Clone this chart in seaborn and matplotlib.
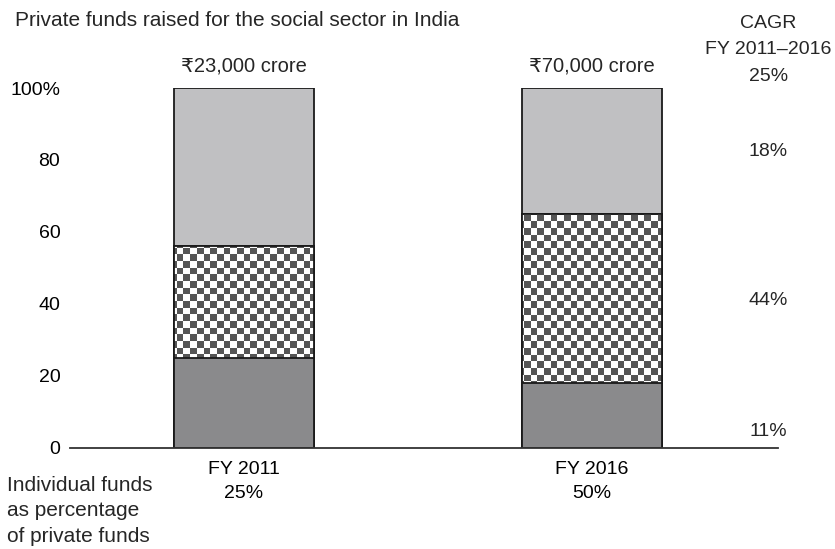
import numpy as np
import pandas as pd
import matplotlib
matplotlib.use("Agg")
import matplotlib.pyplot as plt
from matplotlib.colors import ListedColormap
from matplotlib.patches import Rectangle
import seaborn as sns

# Share of private funds by source (percent of each year's total)
years = ["FY 2011", "FY 2016"]
bottom_share = [25, 18]
middle_share = [31, 47]
top_share = [44, 35]
totals = ["₹23,000 crore", "₹70,000 crore"]
individual_share = ["25%", "50%"]

# Growth rates per segment, FY 2011-2016
cagr_total = "25%"
cagr_labels = ["18%", "44%", "11%"]
cagr_ypos = [82.5, 41, 4.5]

yticks = [0, 20, 40, 60, 80, 100]
ytick_labels = ["0", "20", "40", "60", "80", "100%"]

sns.set_theme(style="white")
plt.rcParams["font.family"] = ["Liberation Sans", "DejaVu Sans"]
FS = 14

df = pd.DataFrame({
    "year": years,
    "bottom": bottom_share,
    "middle": np.add(bottom_share, middle_share),
    "top": np.add(np.add(bottom_share, middle_share), top_share),
})

fig = plt.figure(figsize=(8.35, 5.49), dpi=100)
ax = fig.add_axes([70 / 835, 101 / 549, 708 / 835, 360 / 549])

bw = 0.402
edge = dict(edgecolor="#1a1a1a", linewidth=1.3)
sns.barplot(data=df, x="year", y="top", color="#c0c0c2", saturation=1,
            width=bw, ax=ax, zorder=1, **edge)
n_top = len(ax.patches)
sns.barplot(data=df, x="year", y="middle", color="white", saturation=1,
            width=bw, ax=ax, zorder=2, **edge)
mid_patches = ax.patches[n_top:]
sns.barplot(data=df, x="year", y="bottom", color="#8a8a8c", saturation=1,
            width=bw, ax=ax, zorder=4, **edge)

xlim = (-0.5, 1.534)
ax.set_xlim(*xlim)
ax.set_ylim(0, 100)

# checkerboard fill for the middle segment
nx, ny = 106, 54
ii, jj = np.meshgrid(np.arange(nx), np.arange(ny))
board = (ii + jj) % 2
cmap = ListedColormap(["white", "#555555"])
for p in mid_patches:
    im = ax.imshow(board, cmap=cmap, interpolation="nearest", aspect="auto",
                   extent=[xlim[0], xlim[1], 0, 100], zorder=2.5)
    im.set_clip_path(p)
    ax.add_patch(Rectangle(p.get_xy(), p.get_width(), p.get_height(),
                           fill=False, zorder=3, **edge))
ax.set_xlim(*xlim)
ax.set_ylim(0, 100)

for s in ["top", "right", "left"]:
    ax.spines[s].set_visible(False)
ax.spines["bottom"].set_color("#333333")
ax.spines["bottom"].set_linewidth(1.3)
ax.spines["bottom"].set_zorder(5)

ax.set_yticks(yticks)
ax.set_yticklabels(ytick_labels, fontsize=FS)
ax.set_xticks(range(len(years)))
ax.set_xticklabels([f"{y}\n{s}" for y, s in zip(years, individual_share)],
                   fontsize=FS, linespacing=1.53)
ax.tick_params(axis="both", length=0, colors="black")
ax.tick_params(axis="y", pad=7)
ax.tick_params(axis="x", pad=9.5)
ax.set_xlabel("")
ax.set_ylabel("")

for i, t in enumerate(totals):
    ax.text(i, 103.5, t, ha="center", va="bottom", fontsize=14.5, clip_on=False)

rx = 1.0 + (768 - 592) / 348
ax.text(rx, 110.6, f"CAGR\nFY 2011–2016\n{cagr_total}", ha="center",
        va="center", fontsize=FS, linespacing=1.72, clip_on=False)
for lab, yv in zip(cagr_labels, cagr_ypos):
    ax.text(rx, yv, lab, ha="center", va="center", fontsize=FS, clip_on=False)

fig.text(15 / 835, 1 - 21 / 549, "Private funds raised for the social sector in India",
         ha="left", va="center", fontsize=15)
fig.text(7 / 835, 1 - 511 / 549, "Individual funds\nas percentage\nof private funds",
         ha="left", va="center", fontsize=15, linespacing=1.43)

fig.savefig("out.png", dpi=100)
